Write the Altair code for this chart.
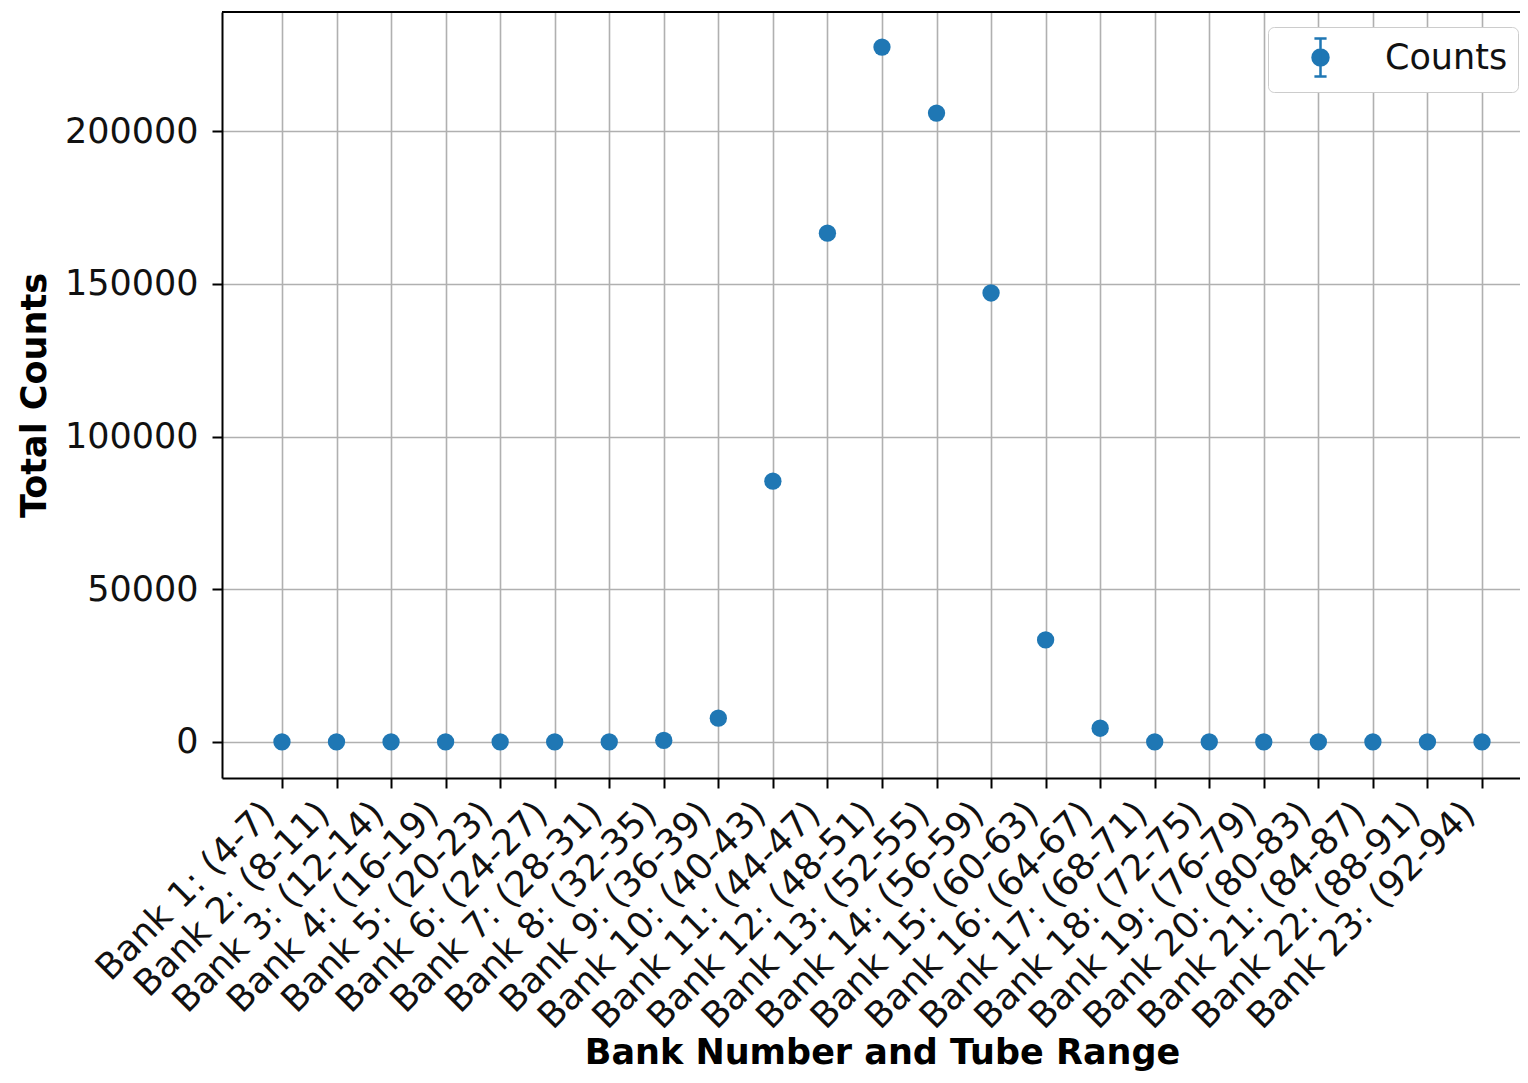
import altair as alt
import pandas as pd

banks = ["Bank 1: (4-7)", "Bank 2: (8-11)", "Bank 3: (12-14)", "Bank 4: (16-19)",
         "Bank 5: (20-23)", "Bank 6: (24-27)", "Bank 7: (28-31)", "Bank 8: (32-35)",
         "Bank 9: (36-39)", "Bank 10: (40-43)", "Bank 11: (44-47)", "Bank 12: (48-51)",
         "Bank 13: (52-55)", "Bank 14: (56-59)", "Bank 15: (60-63)", "Bank 16: (64-67)",
         "Bank 17: (68-71)", "Bank 18: (72-75)", "Bank 19: (76-79)", "Bank 20: (80-83)",
         "Bank 21: (84-87)", "Bank 22: (88-91)", "Bank 23: (92-94)"]
counts = [0, 0, 0, 0, 0, 0, 0, 500, 7800, 85400, 166600, 227500,
          205900, 147000, 33400, 4500, 0, 0, 0, 0, 0, 0, 0]
y_ticks = [0, 50000, 100000, 150000, 200000]
series_name = "Counts"

df = pd.DataFrame({"bank": banks, "counts": counts, "series": series_name})

BLUE = "#1f77b4"
W, H = 1298, 766
FONT = "DejaVu Sans"
FS = 35
XFS = 36
TFS = 35

errbar_path = ("M-0.32,-1H0.32M0,-1V1M-0.32,1H0.32"
               "M-0.42,0A0.42,0.42,0,1,0,0.42,0A0.42,0.42,0,1,0,-0.42,0Z")

points = alt.Chart(df).mark_circle(size=300, opacity=1).encode(
    x=alt.X("bank:N", sort=banks,
            scale=alt.Scale(type="point", padding=0.898, align=0.612),
            axis=alt.Axis(title="Bank Number and Tube Range", labelAngle=-45,
                          labelAlign="right", labelBaseline="bottom", labelLimit=0,
                          labelPadding=33, tickSize=10, tickWidth=2,
                          tickColor="black", domainColor="black", domainWidth=2,
                          grid=True, gridColor="#b0b0b0", gridWidth=1.6,
                          labelFontSize=XFS, titleFontSize=TFS, titleFontWeight="bold",
                          labelColor="#111111", titleColor="black",
                          titleX=660, titleY=257, titleBaseline="top",
                          labelFont=FONT, titleFont=FONT)),
    y=alt.Y("counts:Q",
            scale=alt.Scale(domain=[-11800, 239000], nice=False, zero=False),
            axis=alt.Axis(title="Total Counts", values=y_ticks, format="d",
                          tickSize=10, tickWidth=2, tickColor="black",
                          domainColor="black", domainWidth=2, labelPadding=14,
                          grid=True, gridColor="#b0b0b0", gridWidth=1.6,
                          labelFontSize=FS, titleFontSize=TFS, titleFontWeight="bold",
                          labelColor="#111111", titleColor="black",
                          titlePadding=12, labelFont=FONT, titleFont=FONT)),
    color=alt.Color("series:N", scale=alt.Scale(range=[BLUE]),
                    legend=alt.Legend(title=None, orient="none", legendX=1046, legendY=15,
                                      symbolType=errbar_path, symbolSize=1444,
                                      symbolStrokeColor=BLUE, symbolStrokeWidth=2.5,
                                      symbolFillColor=BLUE, symbolOffset=22,
                                      labelOffset=44, labelFontSize=35, labelFont=FONT,
                                      labelColor="#111111", labelLimit=0,
                                      padding=10, strokeColor="#cccccc", fillColor="white",
                                      cornerRadius=6)),
)

top_spine = alt.Chart(df).mark_rule(color="black", strokeWidth=2).encode(
    x=alt.value(0), x2=alt.value(W), y=alt.value(0)
)

chart = alt.layer(points, top_spine).properties(
    width=W, height=H,
    autosize=alt.AutoSizeParams(type="none"),
    padding={"left": 214, "top": 4, "right": 0, "bottom": 297},
).configure_view(stroke=None)

chart.save("out.html", embed_options={"renderer": "svg", "actions": False})
